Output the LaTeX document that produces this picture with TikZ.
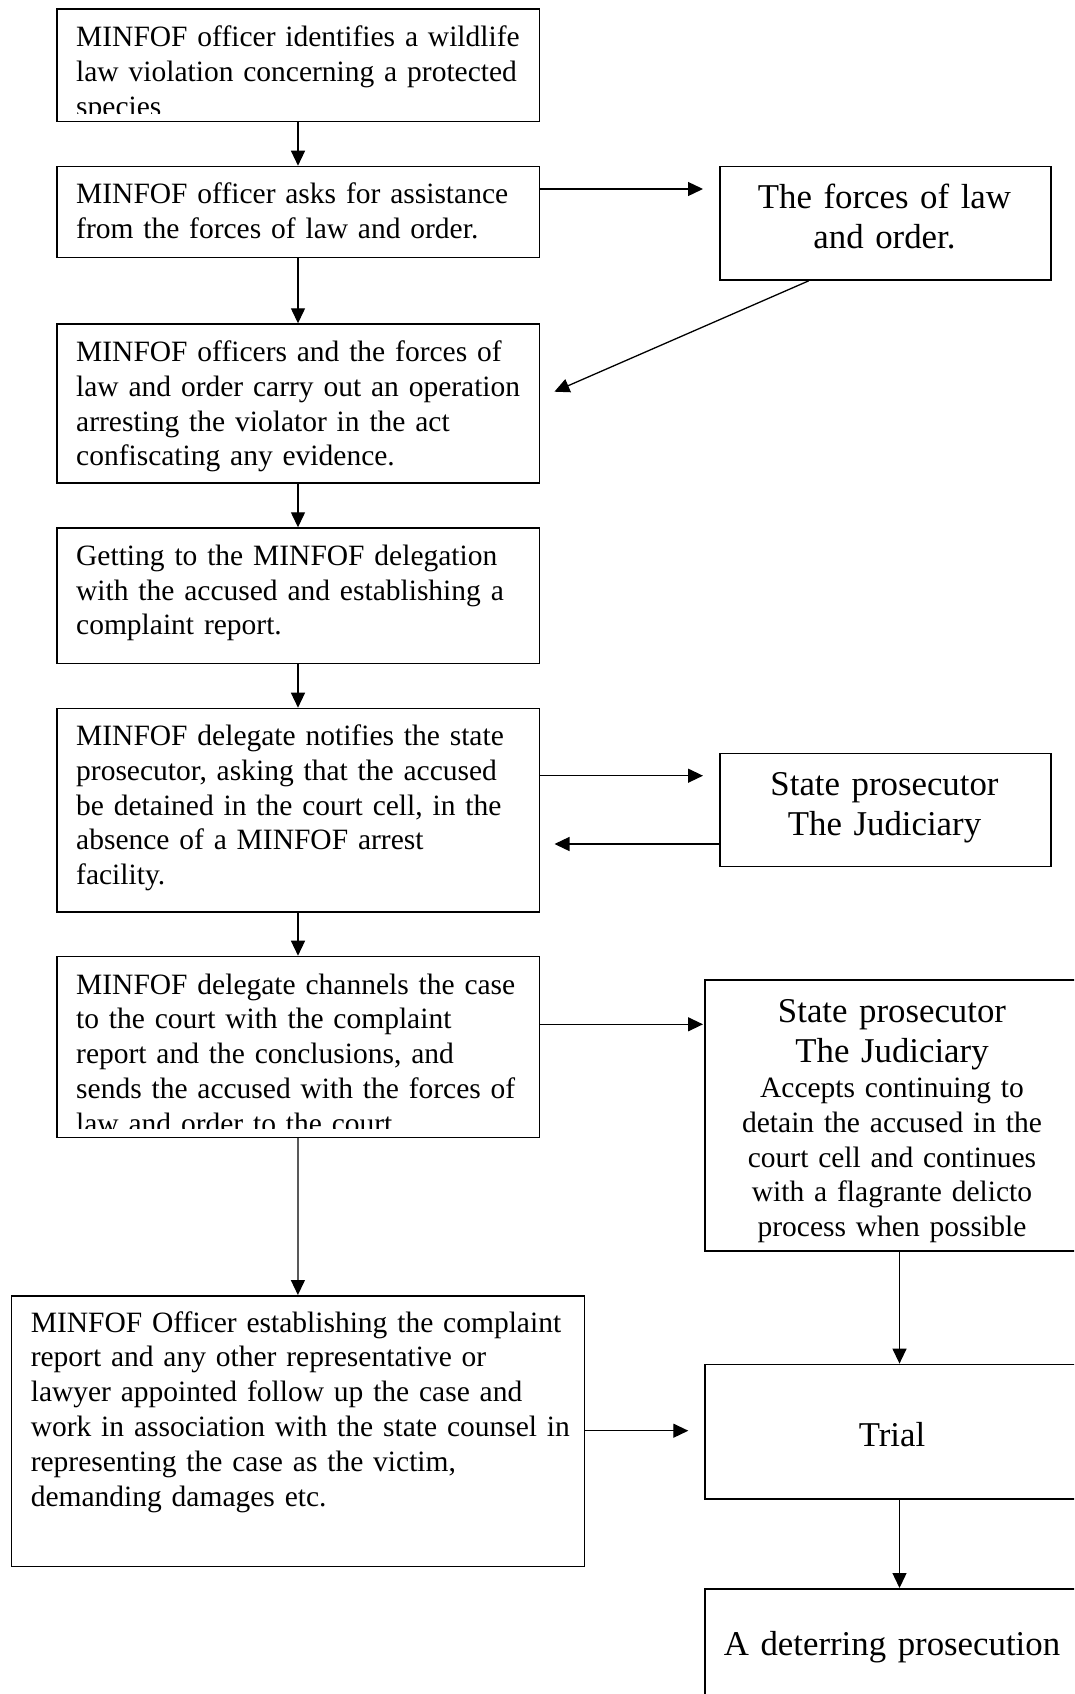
\documentclass[tikz,border=0pt]{standalone}
\usepackage{fontspec}
\setmainfont{Liberation Serif}
\usetikzlibrary{arrows.meta,calc}
\begin{document}
\begin{tikzpicture}[x=1pt,y=-1pt,
  box/.style={draw, line width=1.5pt, inner sep=0pt, anchor=north west},
  conn/.style={line width=1.3pt, -{Triangle[length=15pt,width=14pt]}},
  small/.style={font=\fontsize{29.5}{34.8}\selectfont, inner sep=0pt, text width=560pt, align=left, anchor=base west},
  smallc/.style={font=\fontsize{29.5}{34.8}\selectfont, inner sep=0pt, text width=420pt, align=center, anchor=base},
  large/.style={font=\fontsize{34.8}{40.2}\selectfont, inner sep=0pt, text width=420pt, align=center, anchor=base}]
\clip (0,0) rectangle (1074,1694);
\fill[white] (0,0) rectangle (1074,1694);
% left column boxes
\node[box, minimum width=482.5pt, minimum height=112.4pt] (b1) at (56,8.3) {};
\node[box, minimum width=482.5pt, minimum height=91pt] (b2) at (56,165.7) {};
\node[box, minimum width=482.5pt, minimum height=159pt] (b3) at (56,323.3) {};
\node[box, minimum width=482.5pt, minimum height=135.4pt] (b4) at (56,527.3) {};
\node[box, minimum width=482.5pt, minimum height=203.3pt] (b5) at (56,707.7) {};
\node[box, minimum width=482.5pt, minimum height=181pt] (b6) at (56,955.7) {};
\node[box, minimum width=572.9pt, minimum height=270.7pt] (b7) at (10.7,1295) {};
% right column boxes
\node[box, minimum width=331pt, minimum height=113.6pt] (r1) at (719,165.7) {};
\node[box, minimum width=331pt, minimum height=113pt] (r2) at (719,752.7) {};
\node[box, minimum width=376pt, minimum height=271pt] (r3) at (704,979) {};
\node[box, minimum width=376pt, minimum height=134.7pt] (r4) at (704,1363.6) {};
\node[box, minimum width=376pt, minimum height=130pt] (r5) at (704,1588) {};
% texts
\begin{scope}
\clip (b1.north west) rectangle ($(b1.south east)+(0,-9)$);
\node[small] (tb1) at (76,46.5) {MINFOF officer identifies a wildlife\\law violation concerning a protected\\species};
\end{scope}
\node[small] (tb2) at (76,203.5) {MINFOF officer asks for assistance\\from the forces of law and order.};
\node[small] (tb3) at (76,361.5) {MINFOF officers and the forces of\\law and order carry out an operation\\arresting the violator in the act\\confiscating any evidence.};
\node[small] (tb4) at (76,565.3) {Getting to the MINFOF delegation\\with the accused and establishing a\\complaint report.};
\node[small] (tb5) at (76,745.5) {MINFOF delegate notifies the state\\prosecutor, asking that the accused\\be detained in the court cell, in the\\absence of a MINFOF arrest\\facility.};
\begin{scope}
\clip (b6.north west) rectangle ($(b6.south east)+(0,-10)$);
\node[small] (tb6) at (76,994) {MINFOF delegate channels the case\\to the court with the complaint\\report and the conclusions, and\\sends the accused with the forces of\\law and order to the court.};
\end{scope}
\node[small] (tb7) at (30.6,1332) {MINFOF Officer establishing the complaint\\report and any other representative or\\lawyer appointed follow up the case and\\work in association with the state counsel in\\representing the case as the victim,\\demanding damages etc.};
\node[large] (tr1) at (884.5,208.5) {The forces of law\\and order.};
\node[large] (tr2) at (884.5,795.5) {State prosecutor\\The Judiciary};
\node[large] (tr3) at (892,1022) {State prosecutor\\The Judiciary};
\node[smallc] (tr3b) at (892,1097.5) {Accepts continuing to\\detain the accused in the\\court cell and continues\\with a flagrante delicto\\process when possible};
\node[large] (tr4) at (892,1446) {Trial};
\node[large] (tr5) at (892,1655.5) {A deterring prosecution};
% coordinates for free arrow ends
\coordinate (t1) at (703,189);
\coordinate (t2) at (554.4,391.7);
\coordinate (t3) at (703,775.7);
\coordinate (t4) at (554.5,844);
\coordinate (t5) at (703,1024.3);
\coordinate (t6) at (688.3,1430.7);
\coordinate (ax) at (899.5,0);
\coordinate (s1) at ($(r1.south west)!0.27!(r1.south east)$);
% connectors
\draw[conn] (b1.south) -- (b2.north);
\draw[conn] (b2.east |- t1) -- (t1);
\draw[conn] (s1) -- (t2);
\draw[conn] (b2.south) -- (b3.north);
\draw[conn] (b3.south) -- (b4.north);
\draw[conn] (b4.south) -- (b5.north);
\draw[conn] (b5.east |- t3) -- (t3);
\draw[conn] (r2.west |- t4) -- (t4);
\draw[conn] (b5.south) -- (b6.north);
\draw[conn] (b6.east |- t5) -- (t5);
\draw[conn] (b6.south) -- (b7.north);
\draw[conn] (b7.east |- t6) -- (t6);
\draw[conn] (r3.south -| ax) -- (r4.north -| ax);
\draw[conn] (r4.south -| ax) -- (r5.north -| ax);
\end{tikzpicture}
\end{document}
